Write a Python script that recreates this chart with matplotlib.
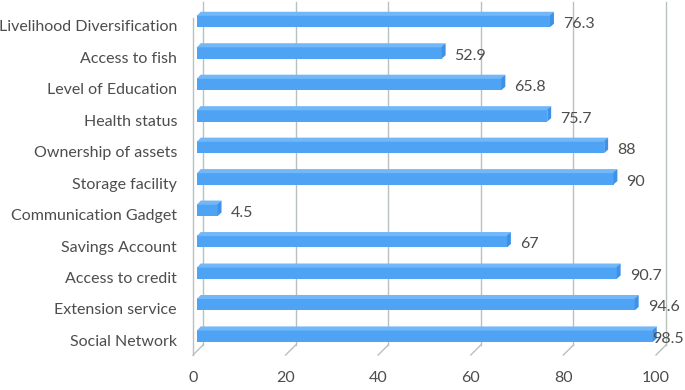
import numpy as np
import matplotlib.pyplot as plt
import matplotlib.transforms as mtransforms
from matplotlib.patches import Polygon

plt.rcParams['font.family'] = ['Lato', 'DejaVu Sans']

categories = ['Livelihood Diversification', 'Access to fish', 'Level of Education',
              'Health status', 'Ownership of assets', 'Storage facility',
              'Communication Gadget', 'Savings Account', 'Access to credit',
              'Extension service', 'Social Network']
values = [76.3, 52.9, 65.8, 75.7, 88, 90, 4.5, 67, 90.7, 94.6, 98.5]
xticks = [0, 20, 40, 60, 80, 100]

grid_col = '#b6c2be'
text_col = '#4d4d4d'
face_col = '#4fa3f5'
top_col = '#72b8f8'
cap_col = '#3f91e8'

fig = plt.figure(figsize=(6.85, 3.9), dpi=100)
ax = fig.add_axes([203/685, 1-345/390, 463/685, 343/390])
ax.set_xlim(0, 100)
ax.set_ylim(10.32, -0.58)
ax.axis('off')

front = mtransforms.offset_copy(ax.transData, fig, x=-10, y=-10, units='dots')
ybot = 10.32

# back wall gridlines + floor diagonals
for t in xticks:
    ax.plot([t, t], [ybot, -0.58], color=grid_col, lw=1, clip_on=False, zorder=1)
    x0, y0 = ax.transData.transform((t, ybot))
    ax.plot([x0, x0-10], [y0, y0-10], color=grid_col, lw=1, transform=None,
            clip_on=False, zorder=1)
    ax.annotate(str(t), xy=(t, ybot), xytext=(-10, -33), textcoords='offset pixels',
                ha='center', va='center', fontsize=11.5, color=text_col)

# left wall front edge
ax.plot([0, 0], [ybot, -0.4], color=grid_col, lw=1, transform=front, clip_on=False)

ypos = np.arange(len(categories))
h = 0.38    # front face height
dx = 0.8    # depth (x, data units)
dy = 0.11   # depth (y, data units)
x0 = -1.3
cy = ypos + 0.03
ax.barh(cy, values, height=h, left=x0, color=face_col, edgecolor='none',
        zorder=3, clip_on=False)
labels = []
for y, v in zip(cy, values):
    top, bot = y - h/2, y + h/2
    xe = x0 + v
    ax.add_patch(Polygon([[x0, top + 0.02], [xe, top + 0.02], [xe + dx, top - dy], [x0 + dx, top - dy]],
                         closed=True, facecolor=top_col, edgecolor='none', zorder=3, clip_on=False))
    ax.add_patch(Polygon([[xe - 0.05, top], [xe + dx, top - dy], [xe + dx, bot - dy], [xe - 0.05, bot]],
                         closed=True, facecolor=cap_col, edgecolor='none', zorder=3, clip_on=False))
    labels.append(ax.annotate(f'{v:g}', xy=(xe + dx, y), xytext=(9, -3), textcoords='offset pixels',
                              ha='left', va='center', fontsize=11.5, color=text_col, zorder=4))

for y, c in zip(ypos, categories):
    ax.annotate(c, xy=(0, y), xytext=(-26, -7), textcoords='offset pixels',
                ha='right', va='center', fontsize=11.5, color=text_col)

# keep value labels inside the figure
fig.canvas.draw()
r = fig.canvas.get_renderer()
W = fig.bbox.width
for t in labels:
    bb = t.get_window_extent(r)
    if bb.x1 > W - 1:
        ox, oy = t.xyann
        t.xyann = (ox - (bb.x1 - W + 1), oy)

fig.savefig('out.png', dpi=100)
